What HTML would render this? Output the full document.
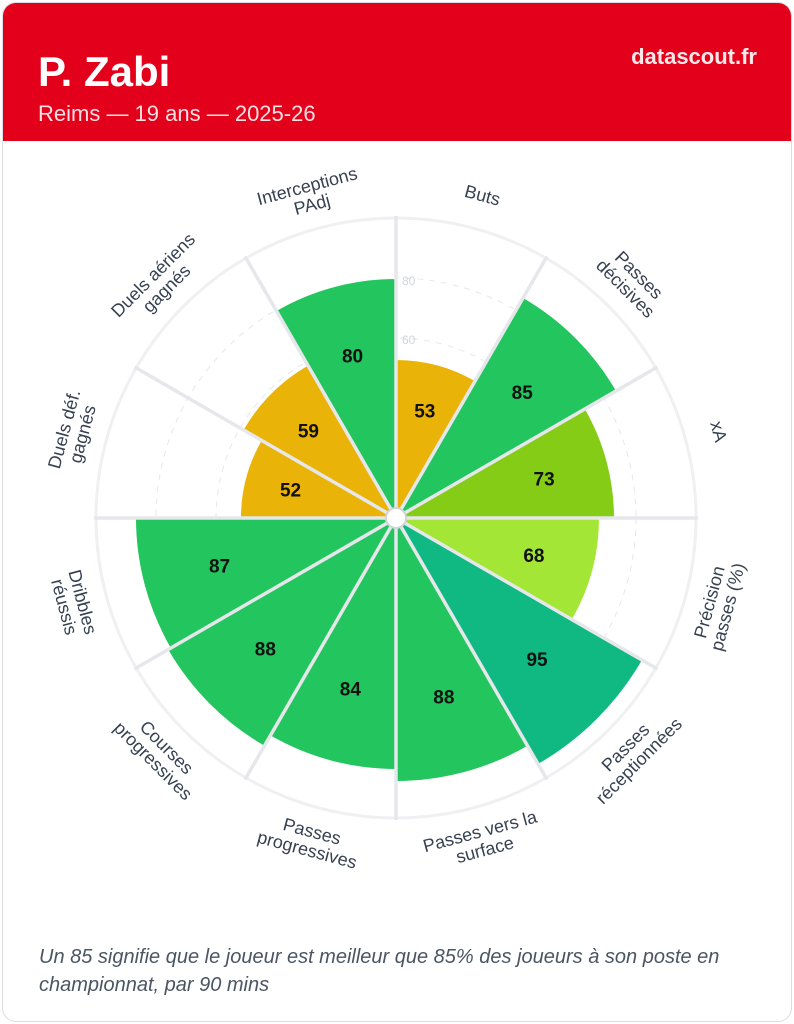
<!DOCTYPE html><html><head><meta charset="utf-8"><style>
body{margin:0;background:#fff;font-family:"Liberation Sans",sans-serif;}
.card{position:absolute;left:2px;top:2px;width:788px;height:1018px;border:1px solid #dcdde2;border-radius:14px;overflow:hidden;background:#fff}
.hd{position:absolute;left:0;top:0;width:788px;height:138px;background:#e2001a}
.t{position:absolute;left:35px;top:45px;color:#fff;font-weight:bold;font-size:42px}
.s{position:absolute;left:35px;top:98px;color:#fde0e3;font-size:22px}
.d{position:absolute;right:34px;top:41px;color:#fde8ea;font-weight:bold;font-size:22px}
.f{position:absolute;left:36px;top:940px;width:725px;color:#4b5563;font-style:italic;font-size:20px;line-height:28px}
svg{position:absolute;left:0;top:0}
</style></head><body>
<div class="card"><div class="hd"></div><div class="t">P. Zabi</div><div class="s">Reims — 19 ans — 2025-26</div><div class="d">datascout.fr</div>
<div class="f">Un 85 signifie que le joueur est meilleur que 85% des joueurs à son poste en championnat, par 90 mins</div></div>
<svg id="s" width="794" height="1024"></svg>
<script>
var cx=396,cy=518,R=300;
var d=[["Buts",53,"#eab308"],["Passes|décisives",85,"#22c55e"],["xA",73,"#84cc16"],["Précision|passes (%)",68,"#a3e635"],["Passes|réceptionnées",95,"#10b981"],["Passes vers la|surface",88,"#22c55e"],["Passes|progressives",84,"#22c55e"],["Courses|progressives",88,"#22c55e"],["Dribbles|réussis",87,"#22c55e"],["Duels déf.|gagnés",52,"#eab308"],["Duels aériens|gagnés",59,"#eab308"],["Interceptions|PAdj",80,"#22c55e"]];
function P(a,r){var t=a*Math.PI/180;return [cx+r*Math.sin(t),cy-r*Math.cos(t)];}
var h='<circle cx="'+cx+'" cy="'+cy+'" r="'+R+'" fill="none" stroke="#f0f0f3" stroke-width="3"/>';
[60,120,180,240].forEach(function(r){h+='<circle cx="'+cx+'" cy="'+cy+'" r="'+r+'" fill="none" stroke="#e5e7eb" stroke-dasharray="6 6"/>';});
d.forEach(function(o,i){var a0=i*30,a1=a0+30,r=o[1]*3,p0=P(a0,r),p1=P(a1,r);
h+='<path d="M'+cx+' '+cy+'L'+p0[0]+' '+p0[1]+'A'+r+' '+r+' 0 0 1 '+p1[0]+' '+p1[1]+'Z" fill="'+o[2]+'" stroke="#fff" stroke-width="2"/>';});
for(var i=0;i<12;i++){var p=P(i*30,R+2);h+='<line x1="'+cx+'" y1="'+cy+'" x2="'+p[0]+'" y2="'+p[1]+'" stroke="#e5e7eb" stroke-width="3.5"/>';}
h+='<text x="402" y="285" font-size="12" fill="#d1d5db">80</text><text x="402" y="344" font-size="12" fill="#d1d5db">60</text>';
h+='<circle cx="'+cx+'" cy="'+cy+'" r="10" fill="#fff" stroke="#d1d5db" stroke-width="2"/>';
d.forEach(function(o,i){var m=i*30+15,p=P(m,o[1]*3*0.7);
h+='<text x="'+p[0]+'" y="'+(p[1]+7)+'" text-anchor="middle" font-size="19" font-weight="bold" fill="#111">'+o[1]+'</text>';
var q=P(m,334),rot=(m>90&&m<270)?m-180:m,ls=o[0].split("|"),n=ls.length;
h+='<g transform="translate('+q[0]+','+q[1]+') rotate('+rot+')">';
ls.forEach(function(l,k){h+='<text x="0" y="'+((k-(n-1)/2)*19+6)+'" text-anchor="middle" font-size="18" fill="#374151">'+l+'</text>';});
h+='</g>';});
document.getElementById("s").innerHTML=h;
</script></body></html>
